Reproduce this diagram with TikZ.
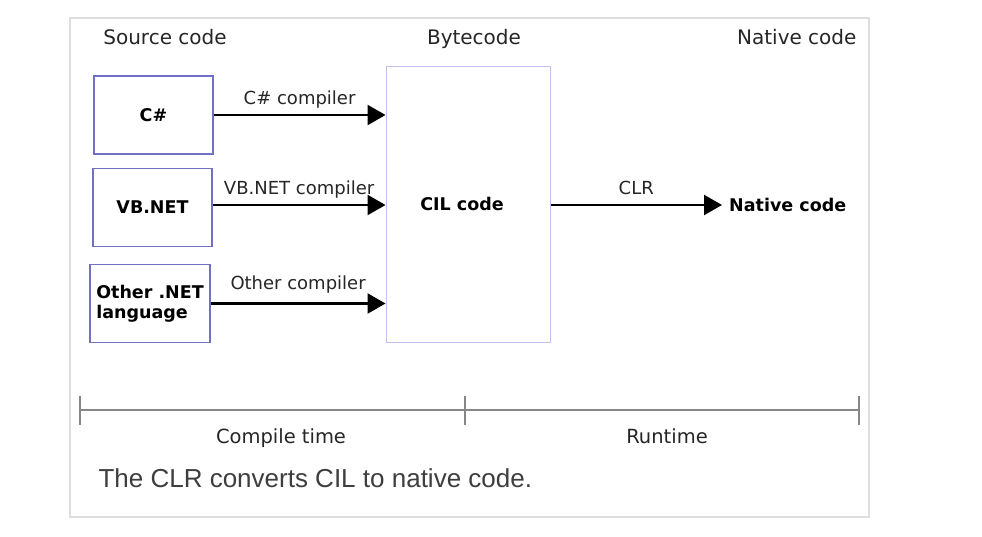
\documentclass[tikz,border=0pt]{standalone}
\usepackage{fontspec}
\setmainfont{DejaVu Sans}
\newfontfamily\captionfont{Liberation Sans}
\usetikzlibrary{arrows.meta}
\definecolor{boxblue}{RGB}{112,112,196}
\definecolor{cilblue}{RGB}{192,192,234}
\definecolor{framegray}{RGB}{222,222,222}
\definecolor{linegray}{RGB}{135,135,135}
\definecolor{captiongray}{RGB}{62,62,62}

\begin{document}
\begin{tikzpicture}[x=1pt, y=-1pt,
        boldtext/.style={font=\fontsize{17.5}{20}\selectfont\bfseries},
        srcbox/.style={draw=boxblue, line width=1.4pt, inner sep=0pt, minimum width=119pt, minimum height=78pt, boldtext},
        flow/.style={-{Triangle[length=18pt, width=20pt]}, line width=2.3pt},
        lbl/.style={font=\fontsize{18}{21}\selectfont, text=black!85, anchor=base, yshift=11pt},
        head/.style={font=\fontsize{20}{24}\selectfont, text=black!85, anchor=base}]
        \useasboundingbox (0,0) rectangle (982,536);
        \draw[framegray, line width=1.6pt, fill=white] (70,18) rectangle (869,517);
        % column headings
        \node[head] (hsrc) at (165,44) {Source code};
        \node[head] (hbyte) at (474,44) {Bytecode};
        \node[head, anchor=base east] (hnative) at (860,44) {Native code};
        % source boxes
        \node[srcbox] (cs) at (153.5,115) {C\#};
        \node[srcbox] (vb) at (152.5,207.5) {VB.NET};
        \node[srcbox, align=left, minimum width=120pt] (other) at (150,303.5) {Other .NET\\language};
        \node[draw=cilblue, line width=1pt, minimum width=164pt, minimum height=276pt,
            label={[boldtext, xshift=-6pt]center:CIL code}] (cil) at (468,204) {};
        \node[anchor=west, inner xsep=7pt, inner ysep=0pt, boldtext] (native) at (722,205) {Native code};
        % compilers
        \draw[flow] (cs.east) -- (cs.east -| cil.west) node[lbl, midway] {C\# compiler};
        \draw[flow] (vb.east |- native.west) -- (cil.west |- native.west) node[lbl, midway] {VB.NET compiler};
        \draw[flow] (other.east) -- (other.east -| cil.west) node[lbl, midway, yshift=3pt] {Other compiler};
        \draw[flow] (cil.east |- native.west) -- (native.west) node[lbl, midway] {CLR};
        % time line
        \coordinate (t0) at (80,410);
        \coordinate (t1) at (465,410);
        \coordinate (t2) at (859,410);
        \draw[linegray, line width=1.5pt] (t0) -- (t2);
        \foreach \t in {t0,t1,t2}
            \draw[linegray, line width=1.2pt] ([yshift=14pt]\t) -- ([yshift=-15pt]\t);
        \node[head, font=\fontsize{19.5}{23}\selectfont] (compile) at (281,443) {Compile time};
        \node[head, font=\fontsize{19.5}{23}\selectfont] (run) at (667,443) {Runtime};
        \node[anchor=base west, font=\captionfont\fontsize{26}{30}\selectfont, text=captiongray] (caption) at (95,487) {The CLR converts CIL to native code.};
\end{tikzpicture}
\end{document}
